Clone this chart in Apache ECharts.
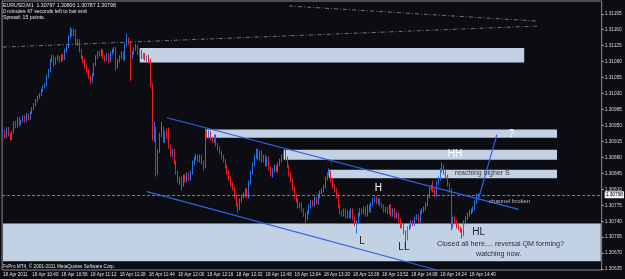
<!DOCTYPE html>
<html>
<head>
<meta charset="utf-8">
<script src="https://cdn.jsdelivr.net/npm/echarts@6/dist/echarts.min.js"></script>
<style>
html,body{margin:0;padding:0;background:#0b0d12;}
#chart{width:625px;height:279px;}
</style>
</head>
<body>
<div id="chart"></div>
<script>
// EURUSD M1, 18 Apr 2011 -- [open, close, low, high]
var candles = [
[1.30932,1.30939,1.30928,1.30943],[1.30939,1.30925,1.30921,1.30941],[1.30925,1.30943,1.30922,1.30946],[1.30943,1.30930,1.30926,1.30947],
[1.30930,1.30921,1.30917,1.30933],[1.30921,1.30934,1.30918,1.30938],[1.30934,1.30956,1.30932,1.30959],[1.30956,1.30947,1.30944,1.30960],
[1.30947,1.30965,1.30945,1.30968],[1.30965,1.30952,1.30949,1.30969],[1.30952,1.30960,1.30950,1.30963],[1.30960,1.30969,1.30957,1.30972],
[1.30969,1.30960,1.30956,1.30972],[1.30960,1.30974,1.30958,1.30977],[1.30974,1.30965,1.30962,1.30977],[1.30965,1.30978,1.30963,1.30981],
[1.30978,1.30987,1.30975,1.30990],[1.30987,1.30995,1.30984,1.30999],[1.30995,1.31004,1.30992,1.31008],[1.31004,1.31013,1.31001,1.31016],
[1.31013,1.31017,1.31009,1.31021],[1.31017,1.31026,1.31014,1.31030],[1.31026,1.31035,1.31023,1.31038],[1.31035,1.31039,1.31031,1.31043],
[1.31039,1.31057,1.31036,1.31061],[1.31057,1.31070,1.31054,1.31074],[1.31070,1.31092,1.31067,1.31096],[1.31092,1.31100,1.31089,1.31105],
[1.31100,1.31087,1.31078,1.31104],[1.31087,1.31096,1.31083,1.31100],[1.31096,1.31100,1.31092,1.31104],[1.31100,1.31092,1.31088,1.31103],
[1.31092,1.31103,1.31089,1.31106],[1.31103,1.31096,1.31092,1.31107],[1.31096,1.31114,1.31093,1.31118],[1.31114,1.31122,1.31110,1.31126],
[1.31122,1.31144,1.31119,1.31148],[1.31144,1.31157,1.31140,1.31166],[1.31157,1.31149,1.31145,1.31162],[1.31149,1.31153,1.31146,1.31162],
[1.31153,1.31131,1.31127,1.31160],[1.31131,1.31136,1.31125,1.31140],[1.31136,1.31114,1.31110,1.31139],[1.31114,1.31100,1.31096,1.31118],
[1.31100,1.31092,1.31087,1.31103],[1.31092,1.31079,1.31074,1.31095],[1.31079,1.31070,1.31065,1.31083],[1.31070,1.31057,1.31052,1.31073],
[1.31057,1.31048,1.31041,1.31060],[1.31048,1.31061,1.31044,1.31065],[1.31061,1.31083,1.31058,1.31087],[1.31083,1.31100,1.31080,1.31104],
[1.31100,1.31109,1.31096,1.31113],[1.31109,1.31105,1.31101,1.31114],[1.31105,1.31114,1.31102,1.31118],[1.31114,1.31100,1.31096,1.31117],
[1.31100,1.31096,1.31090,1.31104],[1.31096,1.31105,1.31092,1.31109],[1.31105,1.31092,1.31086,1.31108],[1.31092,1.31109,1.31089,1.31113],
[1.31109,1.31114,1.31105,1.31118],[1.31114,1.31118,1.31110,1.31122],[1.31118,1.31079,1.31070,1.31122],[1.31079,1.31092,1.31075,1.31096],
[1.31092,1.31100,1.31088,1.31104],[1.31100,1.31109,1.31096,1.31113],[1.31109,1.31096,1.31092,1.31112],[1.31096,1.31127,1.31093,1.31131],
[1.31127,1.31140,1.31123,1.31151],[1.31140,1.31131,1.31127,1.31144],[1.31131,1.31100,1.31048,1.31135],[1.31100,1.31109,1.31096,1.31113],
[1.31109,1.31118,1.31105,1.31122],[1.31118,1.31122,1.31114,1.31129],[1.31122,1.31109,1.31105,1.31126],[1.31109,1.31113,1.31104,1.31116],
[1.31113,1.31100,1.31096,1.31116],[1.31100,1.31105,1.31096,1.31109],[1.31105,1.31096,1.31092,1.31109],[1.31096,1.31100,1.31090,1.31104],
[1.31100,1.31092,1.31087,1.31105],[1.31092,1.31039,1.31035,1.31096],[1.31039,1.30921,1.30917,1.31043],[1.30921,1.30943,1.30914,1.30958],
[1.30943,1.30847,1.30838,1.30947],[1.30847,1.30895,1.30842,1.30899],[1.30895,1.30930,1.30890,1.30934],[1.30930,1.30943,1.30925,1.30958],
[1.30943,1.30917,1.30912,1.30947],[1.30917,1.30934,1.30912,1.30938],[1.30934,1.30925,1.30921,1.30943],[1.30925,1.30904,1.30899,1.30945],
[1.30904,1.30886,1.30882,1.30908],[1.30886,1.30895,1.30880,1.30899],[1.30895,1.30869,1.30864,1.30899],[1.30869,1.30847,1.30842,1.30873],
[1.30847,1.30829,1.30825,1.30851],[1.30829,1.30834,1.30820,1.30838],[1.30834,1.30820,1.30807,1.30838],[1.30820,1.30838,1.30816,1.30842],
[1.30838,1.30829,1.30825,1.30843],[1.30829,1.30842,1.30825,1.30847],[1.30842,1.30834,1.30829,1.30847],[1.30834,1.30847,1.30829,1.30851],
[1.30847,1.30869,1.30842,1.30873],[1.30869,1.30877,1.30864,1.30882],[1.30877,1.30882,1.30873,1.30888],[1.30882,1.30873,1.30869,1.30886],
[1.30873,1.30882,1.30869,1.30886],[1.30882,1.30869,1.30864,1.30886],[1.30869,1.30860,1.30851,1.30873],[1.30860,1.30930,1.30856,1.30943],
[1.30930,1.30925,1.30921,1.30939],[1.30925,1.30934,1.30921,1.30939],[1.30934,1.30921,1.30917,1.30938],[1.30921,1.30917,1.30912,1.30925],
[1.30917,1.30925,1.30912,1.30930],[1.30925,1.30908,1.30904,1.30930],[1.30908,1.30899,1.30895,1.30912],[1.30899,1.30891,1.30886,1.30904],
[1.30891,1.30882,1.30877,1.30895],[1.30882,1.30873,1.30869,1.30886],[1.30873,1.30860,1.30856,1.30877],[1.30860,1.30847,1.30842,1.30864],
[1.30847,1.30834,1.30829,1.30851],[1.30834,1.30820,1.30816,1.30838],[1.30820,1.30812,1.30807,1.30825],[1.30812,1.30794,1.30790,1.30816],
[1.30794,1.30777,1.30772,1.30799],[1.30777,1.30768,1.30759,1.30781],[1.30768,1.30786,1.30764,1.30790],[1.30786,1.30794,1.30781,1.30799],
[1.30794,1.30799,1.30790,1.30803],[1.30799,1.30807,1.30794,1.30812],[1.30807,1.30794,1.30790,1.30812],[1.30794,1.30825,1.30790,1.30829],
[1.30825,1.30847,1.30820,1.30851],[1.30847,1.30864,1.30842,1.30869],[1.30864,1.30882,1.30860,1.30886],[1.30882,1.30895,1.30877,1.30899],
[1.30895,1.30877,1.30873,1.30899],[1.30877,1.30891,1.30873,1.30895],[1.30891,1.30873,1.30869,1.30895],[1.30873,1.30882,1.30869,1.30886],
[1.30882,1.30864,1.30860,1.30886],[1.30864,1.30877,1.30860,1.30882],[1.30877,1.30856,1.30851,1.30882],[1.30856,1.30842,1.30838,1.30860],
[1.30842,1.30851,1.30836,1.30856],[1.30851,1.30860,1.30847,1.30864],[1.30860,1.30851,1.30847,1.30864],[1.30851,1.30864,1.30847,1.30869],
[1.30864,1.30873,1.30860,1.30877],[1.30873,1.30882,1.30869,1.30886],[1.30882,1.30886,1.30877,1.30891],[1.30886,1.30877,1.30873,1.30899],
[1.30877,1.30860,1.30856,1.30882],[1.30860,1.30842,1.30838,1.30864],[1.30842,1.30829,1.30825,1.30847],[1.30829,1.30812,1.30807,1.30834],
[1.30812,1.30794,1.30790,1.30816],[1.30794,1.30786,1.30781,1.30799],[1.30786,1.30772,1.30768,1.30790],[1.30772,1.30777,1.30768,1.30781],
[1.30777,1.30764,1.30759,1.30781],[1.30764,1.30755,1.30750,1.30768],[1.30755,1.30746,1.30735,1.30759],[1.30746,1.30759,1.30742,1.30764],
[1.30759,1.30772,1.30755,1.30777],[1.30772,1.30781,1.30768,1.30786],[1.30781,1.30777,1.30772,1.30786],[1.30777,1.30790,1.30772,1.30794],
[1.30790,1.30781,1.30777,1.30794],[1.30781,1.30794,1.30777,1.30799],[1.30794,1.30803,1.30790,1.30807],[1.30803,1.30807,1.30799,1.30812],
[1.30807,1.30816,1.30803,1.30820],[1.30816,1.30834,1.30812,1.30838],[1.30834,1.30842,1.30829,1.30847],[1.30842,1.30847,1.30838,1.30856],
[1.30847,1.30829,1.30825,1.30851],[1.30829,1.30816,1.30812,1.30834],[1.30816,1.30807,1.30803,1.30820],[1.30807,1.30794,1.30790,1.30812],
[1.30794,1.30772,1.30768,1.30799],[1.30772,1.30759,1.30755,1.30777],[1.30759,1.30755,1.30750,1.30764],[1.30755,1.30764,1.30750,1.30768],
[1.30764,1.30751,1.30746,1.30768],[1.30751,1.30759,1.30746,1.30764],[1.30759,1.30751,1.30746,1.30764],[1.30751,1.30764,1.30746,1.30768],
[1.30764,1.30746,1.30742,1.30768],[1.30746,1.30733,1.30729,1.30750],[1.30733,1.30737,1.30713,1.30742],[1.30737,1.30755,1.30733,1.30759],
[1.30755,1.30764,1.30750,1.30768],[1.30764,1.30759,1.30755,1.30768],[1.30759,1.30768,1.30755,1.30772],[1.30768,1.30755,1.30750,1.30772],
[1.30755,1.30772,1.30750,1.30777],[1.30772,1.30764,1.30759,1.30777],[1.30764,1.30777,1.30759,1.30781],[1.30777,1.30786,1.30772,1.30790],
[1.30786,1.30790,1.30781,1.30794],[1.30790,1.30781,1.30777,1.30794],[1.30781,1.30786,1.30777,1.30790],[1.30786,1.30777,1.30772,1.30790],
[1.30777,1.30772,1.30768,1.30781],[1.30772,1.30764,1.30759,1.30777],[1.30764,1.30768,1.30759,1.30772],[1.30768,1.30759,1.30755,1.30772],
[1.30759,1.30772,1.30755,1.30777],[1.30772,1.30755,1.30750,1.30777],[1.30755,1.30764,1.30750,1.30768],[1.30764,1.30751,1.30746,1.30768],
[1.30751,1.30755,1.30746,1.30759],[1.30755,1.30742,1.30737,1.30759],[1.30742,1.30729,1.30724,1.30746],[1.30729,1.30733,1.30724,1.30737],
[1.30733,1.30716,1.30711,1.30737],[1.30716,1.30702,1.30680,1.30720],[1.30702,1.30724,1.30698,1.30729],[1.30724,1.30729,1.30720,1.30733],
[1.30729,1.30737,1.30724,1.30742],[1.30737,1.30733,1.30729,1.30742],[1.30733,1.30746,1.30729,1.30750],[1.30746,1.30751,1.30742,1.30755],
[1.30751,1.30742,1.30737,1.30755],[1.30742,1.30759,1.30737,1.30764],[1.30759,1.30764,1.30755,1.30768],[1.30764,1.30768,1.30759,1.30772],
[1.30768,1.30777,1.30764,1.30781],[1.30777,1.30794,1.30772,1.30799],[1.30794,1.30812,1.30790,1.30816],[1.30812,1.30816,1.30807,1.30820],
[1.30816,1.30807,1.30803,1.30829],[1.30807,1.30799,1.30794,1.30812],[1.30799,1.30825,1.30794,1.30829],[1.30825,1.30834,1.30820,1.30838],
[1.30834,1.30851,1.30829,1.30856],[1.30851,1.30860,1.30847,1.30869],[1.30860,1.30847,1.30842,1.30864],[1.30847,1.30838,1.30834,1.30851],
[1.30838,1.30820,1.30816,1.30842],[1.30820,1.30807,1.30803,1.30825],[1.30807,1.30729,1.30720,1.30812],[1.30729,1.30746,1.30724,1.30750],
[1.30746,1.30737,1.30733,1.30751],[1.30737,1.30729,1.30724,1.30742],[1.30729,1.30724,1.30720,1.30733],[1.30724,1.30720,1.30715,1.30729],
[1.30720,1.30711,1.30702,1.30724],[1.30711,1.30737,1.30707,1.30742],[1.30737,1.30746,1.30733,1.30751],[1.30746,1.30755,1.30742,1.30759],
[1.30755,1.30759,1.30750,1.30764],[1.30759,1.30764,1.30755,1.30768],[1.30764,1.30768,1.30759,1.30772],[1.30768,1.30781,1.30764,1.30786],
[1.30781,1.30797,1.30777,1.30801],[1.30797,1.30798,1.30787,1.30800]
];
var firstBar = '10:24';
var barCount = 329;               // chart has empty space to the right of the last bar
var timeLabels = ['18 Apr 2011','18 Apr 10:40','18 Apr 10:56','18 Apr 11:12','18 Apr 11:28','18 Apr 11:44',
  '18 Apr 12:00','18 Apr 12:16','18 Apr 12:32','18 Apr 12:48','18 Apr 13:04','18 Apr 13:20','18 Apr 13:36',
  '18 Apr 13:52','18 Apr 14:08','18 Apr 14:24','18 Apr 14:40'];
var priceTicks = [1.31195,1.31160,1.31125,1.31090,1.31055,1.31020,1.30985,1.30950,1.30915,1.30880,
  1.30845,1.30810,1.30775,1.30740,1.30705,1.30670,1.30635];
var lastPrice = 1.30798;
var header = ['EURUSD,M1  1.30797 1.30800 1.30787 1.30798', '0 minutes 47 seconds left to bar end', 'Spread: 15 points.'];

// rectangles: [from, to, top, bottom]
var zones = [
  ['11:39','15:10',1.31120,1.31088],
  ['12:15','15:28',1.30941,1.30923],
  ['12:58','15:28',1.30897,1.30875],
  ['13:23','15:28',1.30853,1.30834],
  ['10:24','15:52',1.30735,1.30652]
];
// trend lines: [t1, p1, t2, p2]
var channel = [
  ['11:54',1.30967,'15:07',1.30766],
  ['11:43',1.30805,'14:22',1.30633],
  ['14:45',1.30790,'14:55',1.30930]
];
var greyLines = [
  ['10:24',1.31122,'15:17',1.31168],
  ['13:01',1.31212,'15:17',1.31179]
];
// text notes: [text, time, price, dark]
var notes = [
  ['H','13:50',1.30812,0],
  ['L','13:41',1.30696,1],
  ['LL','14:04',1.30682,1],
  ['HL','14:45',1.30715,1],
  ['HH','14:32',1.30887,0],
  ['?','15:03',1.30931,0]
];
var smallNotes = [
  ['reaching higher S','14:47',1.30846,'#3a3f48'],
  ['channel broken','15:02',1.30784,'#b8bcc4'],
  ['Closed all here.... reversal QM forming?','14:57',1.30690,'#2b2f36'],
  ['watching now.','14:56',1.30667,'#2b2f36']
];

var times = [];
(function () {
  var p = firstBar.split(':'), m = (+p[0]) * 60 + (+p[1]);
  for (var i = 0; i < barCount; i++) {
    var t = m + i;
    times.push(Math.floor(t / 60) + ':' + ('0' + (t % 60)).slice(-2));
  }
})();

var chart = echarts.init(document.getElementById('chart'));
var font = 'Liberation Sans, Arial, sans-serif';

var areaData = zones.map(function (z) {
  return [{ xAxis: z[0], yAxis: z[2] }, { xAxis: z[1], yAxis: z[3] }];
});
var lineData = channel.map(function (l) {
  return [{ coord: [l[0], l[1]] }, { coord: [l[2], l[3]] }];
});
var greyData = greyLines.map(function (l) {
  return [{ coord: [l[0], l[1]] }, { coord: [l[2], l[3]] }];
});
var noteSizes = [7, 6, 7.2, 7.2];
var noteData = notes.map(function (n) {
  return { coord: [n[1], n[2]], label: { formatter: n[0], color: n[3] ? '#1a1d22' : '#ffffff', fontSize: 10 } };
}).concat(smallNotes.map(function (n, i) {
  return { coord: [n[1], n[2]], label: { formatter: n[0], color: n[3], fontSize: noteSizes[i] } };
}));

var option = {
  backgroundColor: '#0b0d12',
  animation: false,
  grid: { left: 1, right: 18, top: 1, bottom: 9, show: true, borderColor: '#8a8d93', borderWidth: 1, backgroundColor: '#0b0d12' },
  xAxis: {
    type: 'category',
    data: times,
    boundaryGap: true,
    axisLine: { show: false },
    axisTick: { show: false },
    splitLine: { show: false },
    axisLabel: {
      interval: function (idx) { return idx % 16 === 0 && idx / 16 < timeLabels.length; },
      formatter: function (v, idx) { return timeLabels[idx / 16] || ''; },
      hideOverlap: false, showMinLabel: true,
      color: '#e0e0e0', fontSize: 4.6, fontFamily: font, align: 'left', margin: 2
    }
  },
  yAxis: {
    type: 'value',
    position: 'right',
    min: 1.30633,
    max: 1.31223,
    axisLine: { show: false },
    splitLine: { show: false },
    axisTick: { show: true, customValues: priceTicks, length: 2, lineStyle: { color: '#b0b0b0' } },
    axisLabel: {
      customValues: priceTicks,
      formatter: function (v) { return v.toFixed(5); },
      color: '#d8d8d8', fontSize: 4.8, fontFamily: font, margin: 3
    }
  },
  series: [
    {
      type: 'line', data: [], z: 1, silent: true,
      markArea: { silent: true, itemStyle: { color: '#c2d1e4' }, data: areaData }
    },
    {
      type: 'line', data: [], z: 2, silent: true,
      markLine: {
        silent: true, symbol: 'none', precision: 5,
        data: [{ yAxis: lastPrice }],
        lineStyle: { color: '#7d8087', type: [3, 2], width: 1 },
        label: { position: 'end', formatter: lastPrice.toFixed(5), color: '#000', backgroundColor: '#f0f0f0',
          fontSize: 4.8, fontFamily: font, padding: [1, 1], distance: 3 }
      }
    },
    {
      type: 'line', data: [], z: 2, silent: true,
      markLine: { silent: true, symbol: 'none', precision: 5, label: { show: false },
        lineStyle: { color: '#6f7378', width: 1, type: [4, 2, 1, 2] }, data: greyData }
    },
    {
      type: 'candlestick',
      data: candles,
      z: 3,
      barWidth: '70%',
      itemStyle: { color: '#2272ea', color0: '#e81e24', borderColor: '#2272ea', borderColor0: '#e81e24', borderWidth: 1 }
    },
    {
      type: 'line', data: [], z: 4, silent: true,
      markLine: { silent: true, symbol: 'none', precision: 5, label: { show: false },
        lineStyle: { color: '#2f63e6', width: 1.2, type: 'solid' }, data: lineData }
    },
    {
      type: 'line', data: [], z: 10, silent: true,
      markPoint: {
        silent: true, z: 10, symbol: 'circle', symbolSize: 1, itemStyle: { color: 'rgba(0,0,0,0)' },
        label: { show: true, position: 'inside', fontFamily: font },
        data: noteData
      }
    }
  ],
  graphic: [
    { type: 'text', left: 3, top: 2, style: { text: header.join('\n'), fill: '#e6e6e6', font: '5.2px ' + font, lineHeight: 6.2 } },
    { type: 'text', left: 3, top: 264, style: { text: 'FxPro MT4, \u00a9 2001-2011 MetaQuotes Software Corp.', fill: '#e6e6e6', font: '4.7px ' + font } }
  ]
};
chart.setOption(option);
</script>
</body>
</html>
